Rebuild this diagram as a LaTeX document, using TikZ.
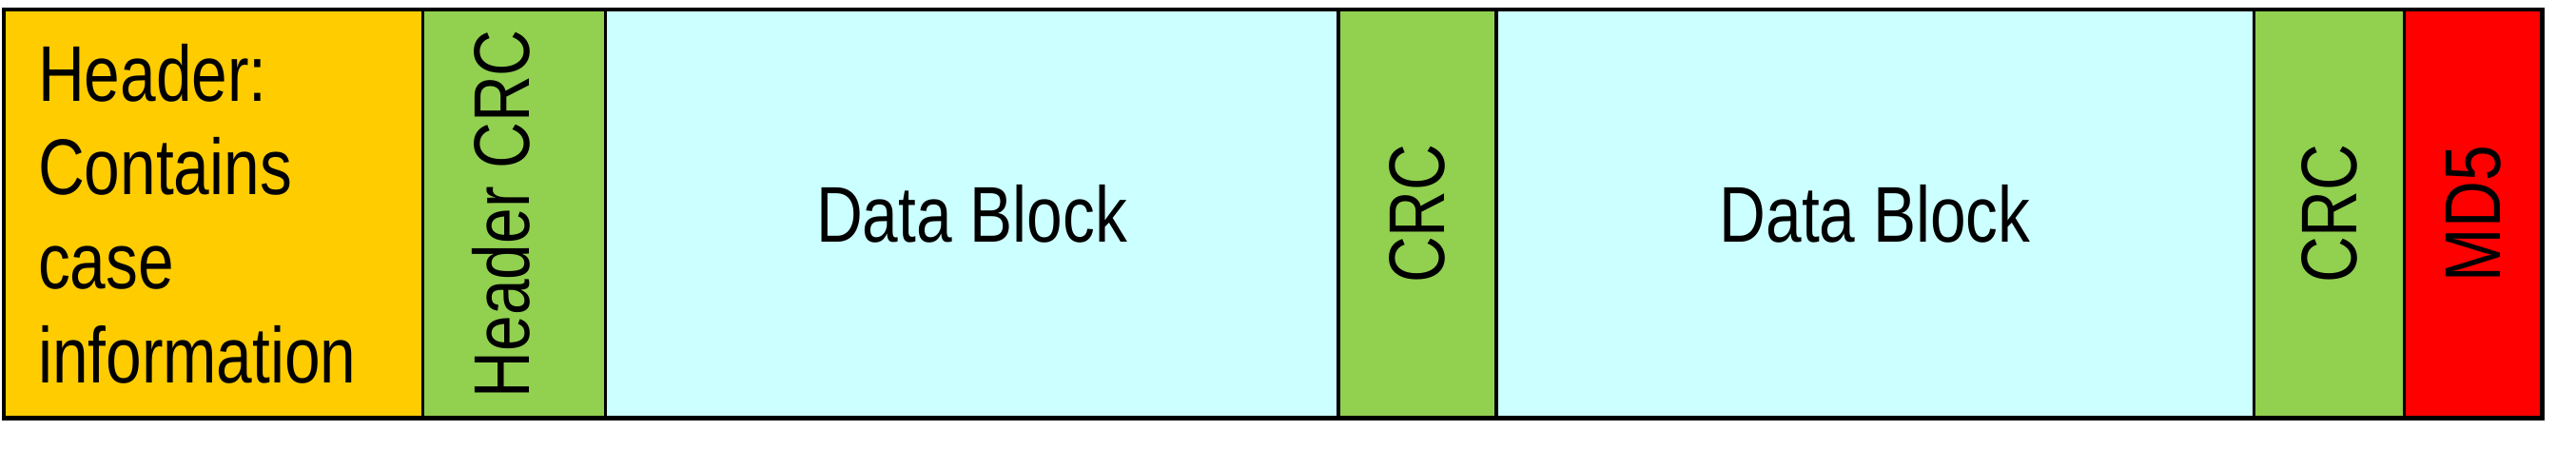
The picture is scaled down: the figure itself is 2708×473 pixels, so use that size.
\documentclass[tikz,border=0pt]{standalone}
\usepackage{fontspec}
\usepackage{graphicx}
\usepackage{tikz}
\usetikzlibrary{positioning}
\newfontfamily\blockfont[FakeStretch=0.815]{Liberation Sans}
\definecolor{hdrc}{HTML}{FFCC00}
\definecolor{crcc}{HTML}{92D050}
\definecolor{datac}{HTML}{CCFFFF}
\definecolor{md5c}{HTML}{FF0000}
\tikzset{
  seg/.style={draw=black,line width=1pt,minimum height=4.29cm,inner sep=0pt,outer sep=0pt,
    font=\blockfont\fontsize{23.6}{28.1}\selectfont},
  frame/.style={draw=black,line width=1.4pt}
}
\begin{document}
\begin{tikzpicture}[x=0.01cm,y=0.01cm]
\useasboundingbox (0,0) rectangle (2708,473);
\node[seg,fill=hdrc,anchor=north west,text width=3.68cm,inner xsep=0.36cm,align=left] (hdr) at (4,463)
  {Header:\\Contains\\case\\information};
\node[seg,fill=crcc,minimum width=1.92cm,right=0pt of hdr] (hcrc) {\rotatebox{90}{Header CRC}\hspace*{0.26cm}};
\node[seg,fill=datac,minimum width=7.70cm,right=0pt of hcrc] (data1) {Data Block};
\node[seg,fill=crcc,minimum width=1.66cm,right=0pt of data1] (crc1) {\rotatebox{90}{CRC}};
\node[seg,fill=datac,minimum width=7.96cm,right=0pt of crc1] (data2) {Data Block};
\node[seg,fill=crcc,minimum width=1.58cm,right=0pt of data2] (crc2) {\rotatebox{90}{CRC}};
\node[seg,fill=md5c,minimum width=1.45cm,right=0pt of crc2] (md5) {\rotatebox{90}{MD5}};
% outer frame
\draw[frame] (hdr.north west) rectangle (md5.south east);
\end{tikzpicture}
\end{document}
